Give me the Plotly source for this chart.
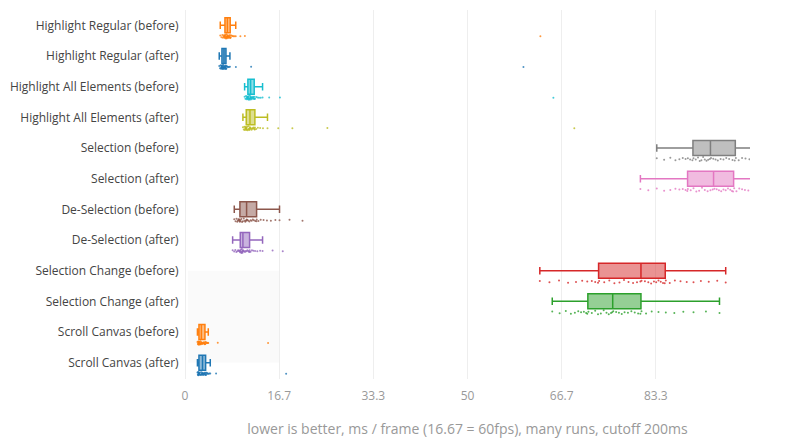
import plotly.graph_objects as go

categories = [
    "Highlight Regular (before)",
    "Highlight Regular (after)",
    "Highlight All Elements (before)",
    "Highlight All Elements (after)",
    "Selection (before)",
    "Selection (after)",
    "De-Selection (before)",
    "De-Selection (after)",
    "Selection Change (before)",
    "Selection Change (after)",
    "Scroll Canvas (before)",
    "Scroll Canvas (after)",
]

colors = [
    "#ff7f0e", "#1f77b4", "#17becf", "#bcbd22", "#7f7f7f", "#e377c2",
    "#8c564b", "#9467bd", "#d62728", "#2ca02c", "#ff7f0e", "#1f77b4",
]

# ms / frame samples (sorted)
hr_before = [6.24, 6.45, 6.6, 6.72, 6.82, 6.9, 6.96, 7.0, 7.03, 7.06,
             7.08, 7.13, 7.19, 7.25, 7.3, 7.35, 7.39, 7.43, 7.47, 7.49,
             7.51, 7.55, 7.6, 7.65, 7.7, 7.76, 7.82, 7.88, 7.94, 7.99,
             8.01, 8.1, 8.22, 8.38, 8.55, 8.75, 8.98, 9.8, 10.6, 62.9]
hr_after = [6.06, 6.2, 6.3, 6.37, 6.42, 6.46, 6.49, 6.51, 6.52, 6.53,
            6.55, 6.59, 6.63, 6.68, 6.72, 6.76, 6.8, 6.84, 6.87, 6.89,
            6.91, 6.94, 6.98, 7.02, 7.06, 7.1, 7.14, 7.18, 7.22, 7.24,
            7.26, 7.32, 7.4, 7.5, 7.62, 7.78, 7.95, 9.0, 11.7, 59.9]
ha_before = [10.55, 10.7, 10.8, 10.88, 10.95, 11.0, 11.04, 11.08, 11.11, 11.12,
             11.14, 11.2, 11.26, 11.32, 11.38, 11.44, 11.5, 11.55, 11.58, 11.6,
             11.62, 11.67, 11.73, 11.8, 11.88, 11.96, 12.04, 12.12, 12.2, 12.24,
             12.26, 12.4, 12.6, 12.85, 13.1, 13.4, 13.73, 14.9, 16.8, 65.2]
ha_after = [10.25, 10.4, 10.5, 10.58, 10.65, 10.7, 10.75, 10.79, 10.82, 10.83,
            10.85, 10.92, 11.0, 11.08, 11.16, 11.24, 11.32, 11.4, 11.46, 11.49,
            11.51, 11.58, 11.68, 11.78, 11.9, 12.0, 12.1, 12.2, 12.3, 12.36,
            12.38, 12.6, 12.9, 13.3, 13.8, 14.6, 16.5, 19.0, 25.2, 68.9]
sel_before = [83.5, 84.8, 85.9, 86.8, 87.5, 88.1, 88.6, 89.0, 89.4, 89.8,
              90.0, 90.4, 90.8, 91.1, 91.4, 91.7, 92.0, 92.3, 92.6, 92.9,
              93.1, 93.5, 93.9, 94.3, 94.8, 95.3, 95.8, 96.3, 96.9, 97.3,
              97.5, 98.0, 98.6, 99.2, 99.9, 100.6, 101.4, 102.3, 103.5, 105.0]
sel_after = [80.6, 82.0, 83.5, 84.8, 85.9, 86.8, 87.5, 88.1, 88.6, 88.9,
             89.0, 89.5, 90.0, 90.5, 91.0, 91.5, 92.0, 92.5, 93.0, 93.4,
             93.7, 94.1, 94.5, 94.9, 95.3, 95.7, 96.1, 96.5, 96.8, 97.0,
             97.2, 97.6, 98.1, 98.6, 99.1, 99.7, 100.4, 101.2, 102.2, 103.5]
desel_before = [8.72, 8.95, 9.12, 9.25, 9.36, 9.45, 9.53, 9.6, 9.66, 9.71,
                9.73, 9.85, 9.98, 10.1, 10.25, 10.4, 10.55, 10.68, 10.8, 10.88,
                10.92, 11.05, 11.2, 11.4, 11.6, 11.8, 12.0, 12.2, 12.45, 12.65,
                12.69, 13.0, 13.4, 13.9, 14.5, 15.2, 16.0, 16.73, 18.5, 20.8]
desel_after = [8.43, 8.7, 8.9, 9.08, 9.25, 9.4, 9.52, 9.62, 9.7, 9.76,
               9.8, 9.86, 9.92, 9.98, 10.03, 10.08, 10.13, 10.18, 10.22, 10.24,
               10.26, 10.35, 10.48, 10.62, 10.76, 10.9, 11.04, 11.18, 11.32, 11.42,
               11.44, 11.6, 11.85, 12.1, 12.4, 12.8, 13.3, 13.73, 15.5, 17.3]
selchg_before = [62.8, 64.5, 66.2, 67.8, 69.2, 70.3, 71.2, 72.0, 72.6, 73.1,
                 73.3, 74.2, 75.1, 76.0, 76.9, 77.7, 78.5, 79.3, 80.0, 80.6,
                 80.8, 81.4, 82.0, 82.5, 83.0, 83.4, 83.8, 84.2, 84.6, 84.9,
                 85.1, 85.8, 86.7, 87.7, 88.8, 90.0, 91.3, 92.7, 94.2, 95.7]
selchg_after = [65.0, 66.3, 67.4, 68.3, 69.0, 69.6, 70.1, 70.6, 71.0, 71.2,
                71.4, 72.0, 72.6, 73.1, 73.6, 74.1, 74.6, 75.0, 75.4, 75.6,
                75.8, 76.3, 76.8, 77.3, 77.8, 78.4, 79.0, 79.6, 80.2, 80.6,
                80.8, 81.6, 82.6, 83.8, 85.1, 86.6, 88.2, 90.0, 92.2, 94.6]
scroll_before = [2.2, 2.28, 2.33, 2.37, 2.4, 2.42, 2.44, 2.45, 2.46, 2.46,
                 2.48, 2.53, 2.58, 2.63, 2.68, 2.73, 2.78, 2.83, 2.87, 2.89,
                 2.91, 2.97, 3.04, 3.11, 3.18, 3.25, 3.32, 3.39, 3.46, 3.52,
                 3.54, 3.6, 3.68, 3.76, 3.85, 3.95, 4.05, 4.12, 5.8, 14.7]
scroll_after = [2.2, 2.27, 2.32, 2.36, 2.39, 2.41, 2.43, 2.44, 2.45, 2.46,
                2.48, 2.56, 2.64, 2.72, 2.8, 2.88, 2.95, 3.01, 3.06, 3.09,
                3.11, 3.17, 3.23, 3.29, 3.35, 3.41, 3.47, 3.53, 3.59, 3.64,
                3.66, 3.74, 3.82, 3.92, 4.02, 4.14, 4.3, 4.47, 5.5, 17.9]

series = [hr_before, hr_after, ha_before, ha_after, sel_before, sel_after,
          desel_before, desel_after, selchg_before, selchg_after,
          scroll_before, scroll_after]

tick_vals = [0, 16.67, 33.33, 50, 66.67, 83.33]
tick_text = ["0", "16.7", "33.3", "50", "66.7", "83.3"]

fig = go.Figure()
for name, vals, col in reversed(list(zip(categories, series, colors))):
    fig.add_trace(go.Box(
        x=vals, name=name, orientation="h",
        boxpoints="all", jitter=0.3, pointpos=-1.45,
        marker=dict(color=col, size=2, opacity=0.8),
        line=dict(color=col, width=1.5),
        showlegend=False,
    ))

fig.add_shape(type="rect", xref="x", yref="y", x0=0.5, x1=16.67, y0=0, y1=3,
              fillcolor="rgba(0,0,0,0.018)", line=dict(width=0), layer="below")

fig.update_layout(
    width=800, height=440,
    template="none",
    paper_bgcolor="white", plot_bgcolor="white",
    font=dict(family="Open Sans, verdana, arial, sans-serif", size=12, color="#444"),
    margin=dict(l=177, r=58, t=2, b=69),
    showlegend=False,
    xaxis=dict(
        range=[0, 100], tickvals=tick_vals, ticktext=tick_text,
        showgrid=True, gridcolor="#eee", zeroline=True, zerolinecolor="#eee",
        zerolinewidth=1, showline=False, ticks="outside", ticklen=6,
        tickcolor="rgba(0,0,0,0)",
        tickfont=dict(color="#999", size=12),
        title=dict(text="lower is better, ms / frame (16.67 = 60fps), many runs, cutoff 200ms",
                   font=dict(color="#999", size=14), standoff=20),
    ),
    yaxis=dict(
        categoryorder="array", categoryarray=list(reversed(categories)),
        showgrid=False, zeroline=False, showline=False,
        ticks="outside", ticklen=3, tickcolor="rgba(0,0,0,0)",
        tickfont=dict(color="#444", size=12),
    ),
)

fig.write_html("out.html")
